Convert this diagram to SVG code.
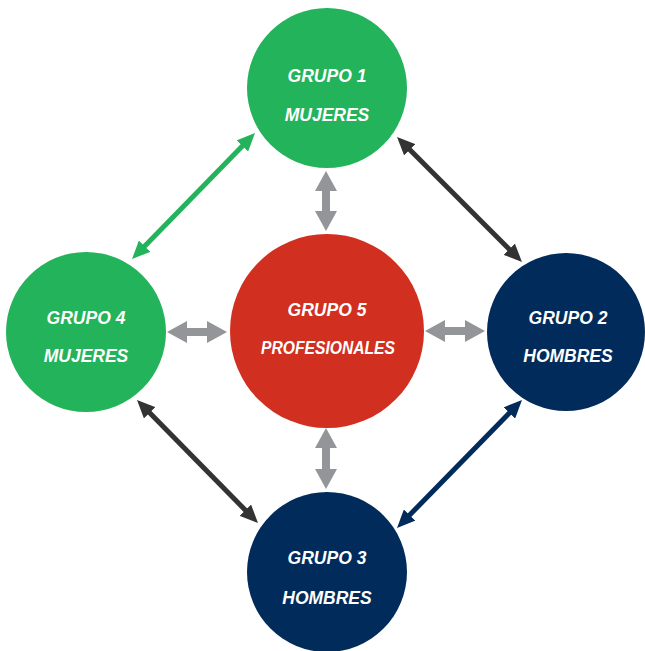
<svg xmlns="http://www.w3.org/2000/svg" width="645" height="651" viewBox="0 0 645 651">
<style>
.lbl{font-family:"Liberation Sans","Open Sans",sans-serif;font-weight:bold;font-style:italic;font-size:17.5px;fill:#ffffff;text-anchor:middle}
.green{fill:#22b35b}.navy{fill:#002b5a}.red{fill:#d12f20}
.conn{fill:none;stroke-linecap:butt}
</style>
<defs>
<marker id="hg" markerUnits="userSpaceOnUse" markerWidth="18" markerHeight="16" refX="8" refY="8" orient="auto-start-reverse" viewBox="0 0 18 16"><path d="M0,0 L18,8 L0,16 z" fill="#22b35b"/></marker>
<marker id="hd" markerUnits="userSpaceOnUse" markerWidth="18" markerHeight="16" refX="8" refY="8" orient="auto-start-reverse" viewBox="0 0 18 16"><path d="M0,0 L18,8 L0,16 z" fill="#333333"/></marker>
<marker id="hn" markerUnits="userSpaceOnUse" markerWidth="18" markerHeight="16" refX="8" refY="8" orient="auto-start-reverse" viewBox="0 0 18 16"><path d="M0,0 L18,8 L0,16 z" fill="#002b5a"/></marker>
<marker id="hx" markerUnits="userSpaceOnUse" markerWidth="20" markerHeight="22" refX="8" refY="11" orient="auto-start-reverse" viewBox="0 0 20 22"><path d="M0,0 L20,11 L0,22 z" fill="#939598"/></marker>
</defs>
<g id="connectors">
<line class="conn" x1="248" y1="140.2" x2="139" y2="251.9" stroke="#22b35b" stroke-width="5" marker-start="url(#hg)" marker-end="url(#hg)"/>
<line class="conn" x1="404.1" y1="144.1" x2="514.9" y2="254.9" stroke="#333333" stroke-width="5" marker-start="url(#hd)" marker-end="url(#hd)"/>
<line class="conn" x1="515" y1="407.2" x2="404" y2="520.8" stroke="#002b5a" stroke-width="5" marker-start="url(#hn)" marker-end="url(#hn)"/>
<line class="conn" x1="144" y1="407.1" x2="251" y2="515.9" stroke="#333333" stroke-width="5" marker-start="url(#hd)" marker-end="url(#hd)"/>
<line class="conn" x1="326" y1="183" x2="326" y2="219" stroke="#939598" stroke-width="8" marker-start="url(#hx)" marker-end="url(#hx)"/>
<line class="conn" x1="326" y1="440" x2="326" y2="477" stroke="#939598" stroke-width="8" marker-start="url(#hx)" marker-end="url(#hx)"/>
<line class="conn" x1="179" y1="332" x2="215" y2="332" stroke="#939598" stroke-width="8" marker-start="url(#hx)" marker-end="url(#hx)"/>
<line class="conn" x1="437" y1="331" x2="473" y2="331" stroke="#939598" stroke-width="8" marker-start="url(#hx)" marker-end="url(#hx)"/>
</g>
<g id="grupo1"><circle class="green" cx="327" cy="88" r="80"/><text class="lbl" x="327" y="82">GRUPO 1</text><text class="lbl" x="327" y="121">MUJERES</text></g>
<g id="grupo4"><circle class="green" cx="86" cy="332" r="80"/><text class="lbl" x="86" y="324">GRUPO 4</text><text class="lbl" x="86" y="362">MUJERES</text></g>
<g id="grupo5"><circle class="red" cx="327" cy="331" r="97"/><text class="lbl" x="327" y="316">GRUPO 5</text><text class="lbl" x="328" y="354" textLength="134" lengthAdjust="spacingAndGlyphs">PROFESIONALES</text></g>
<g id="grupo2"><circle class="navy" cx="566" cy="332" r="79"/><text class="lbl" x="568" y="324">GRUPO 2</text><text class="lbl" x="568" y="362">HOMBRES</text></g>
<g id="grupo3"><circle class="navy" cx="327" cy="572" r="80"/><text class="lbl" x="327" y="564">GRUPO 3</text><text class="lbl" x="327" y="604">HOMBRES</text></g>
</svg>
